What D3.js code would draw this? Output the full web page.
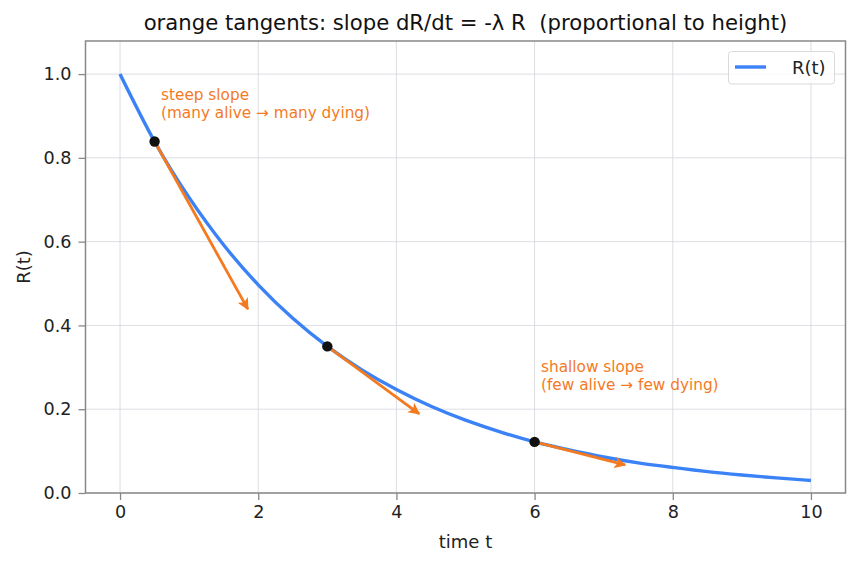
<!DOCTYPE html>
<html><head><meta charset="utf-8">
<script src="https://cdn.jsdelivr.net/npm/d3@7"></script>
<style>body{margin:0;background:#fff}svg{display:block}text{font-family:"DejaVu Sans",sans-serif;white-space:pre}</style>
</head><body><svg id="c" width="858" height="567"></svg>
<script>
const timeT = [0,0.5,1,1.5,2,2.5,3,3.5,4,4.5,5,5.5,6,6.5,7,7.5,8,8.5,9,9.5,10];
const survival = [1.000,0.839,0.705,0.592,0.497,0.417,0.350,0.294,0.247,0.207,0.174,0.146,0.122,0.103,0.086,0.072,0.061,0.051,0.043,0.036,0.030];
const tangentT = [0.5,3,6];
const tangentR = [0.839,0.350,0.122];
const arrowEndT = [1.85,4.33,7.31];
const arrowEndR = [0.439,0.189,0.067];
const xTicks = [0,2,4,6,8,10];
const yTicks = [0,0.2,0.4,0.6,0.8,1.0];

const blue = "#3b82f6", orange = "#f47a1f", gridC = "#d3d6da", frameC = "#888888";
const svg = d3.select("#c");
const L = 85.5, R = 845.5, T = 41, B = 493;
const x = d3.scaleLinear().domain([-0.5,10.5]).range([L,R]);
const y = d3.scaleLinear().domain([0,1.079]).range([B,T]);

// grid
svg.append("g").selectAll("line").data(xTicks).join("line")
  .attr("x1",d=>x(d)).attr("x2",d=>x(d)).attr("y1",T).attr("y2",B)
  .attr("stroke",gridC).attr("stroke-width",0.8);
svg.append("g").selectAll("line").data(yTicks).join("line")
  .attr("x1",L).attr("x2",R).attr("y1",d=>y(d)).attr("y2",d=>y(d))
  .attr("stroke",gridC).attr("stroke-width",0.8);

// axes
const xAxis = svg.append("g").attr("transform",`translate(0,${B})`)
  .call(d3.axisBottom(x).tickValues(xTicks).tickFormat(d3.format("d")).tickSize(7).tickPadding(6));
const yAxis = svg.append("g").attr("transform",`translate(${L},0)`)
  .call(d3.axisLeft(y).tickValues(yTicks).tickFormat(d3.format(".1f")).tickSize(7).tickPadding(7));
[xAxis,yAxis].forEach(a=>{
  a.select(".domain").remove();
  a.selectAll(".tick line").attr("stroke",frameC).attr("stroke-width",1.3);
  a.selectAll(".tick text").attr("fill","#222").style("font-size","17.6px").style("font-family","DejaVu Sans");
});

// curve
svg.append("path").datum(timeT.map((t,i)=>[t,survival[i]]))
  .attr("d",d3.line().x(d=>x(d[0])).y(d=>y(d[1])).curve(d3.curveNatural))
  .attr("fill","none").attr("stroke",blue).attr("stroke-width",3.4);

// arrow marker
svg.append("defs").append("marker").attr("id","ah")
  .attr("viewBox","0 0 10 10").attr("refX",9).attr("refY",5)
  .attr("markerWidth",4.2).attr("markerHeight",4.2).attr("markerUnits","strokeWidth").attr("orient","auto")
  .append("path").attr("d","M0,0 L10,5 L0,10 L2.5,5 Z").attr("fill",orange);

svg.append("g").selectAll("line").data(tangentT).join("line")
  .attr("x1",(d,i)=>x(d)).attr("y1",(d,i)=>y(tangentR[i]))
  .attr("x2",(d,i)=>x(arrowEndT[i])).attr("y2",(d,i)=>y(arrowEndR[i]))
  .attr("stroke",orange).attr("stroke-width",2.8).attr("marker-end","url(#ah)");

svg.append("g").selectAll("circle").data(tangentT).join("circle")
  .attr("cx",d=>x(d)).attr("cy",(d,i)=>y(tangentR[i])).attr("r",5.2).attr("fill","#111");

// annotations
function note(tx,ty,lines){
  const t = svg.append("text").attr("x",tx).attr("y",ty).attr("fill",orange).style("font-size","15.3px");
  lines.forEach((s,i)=>t.append("tspan").attr("x",tx).attr("dy",i?18:0).text(s));
}
note(161,100,["steep slope","(many alive \u2192 many dying)"]);
note(541,372,["shallow slope","(few alive \u2192 few dying)"]);

// frame
svg.append("rect").attr("x",L).attr("y",T).attr("width",R-L).attr("height",B-T)
  .attr("fill","none").attr("stroke",frameC).attr("stroke-width",1.5);

// legend
svg.append("rect").attr("x",728.5).attr("y",51.5).attr("width",106).attr("height",32.5).attr("rx",3)
  .attr("fill","#fff").attr("fill-opacity",0.8).attr("stroke","#d9d9d9").attr("stroke-width",1);
svg.append("line").attr("x1",735).attr("x2",766).attr("y1",67).attr("y2",67).attr("stroke",blue).attr("stroke-width",3.4);
svg.append("text").attr("x",792).attr("y",73.5).attr("fill","#222").style("font-size","18px").text("R(t)");

// title and labels
svg.append("text").attr("x",(L+R)/2).attr("y",30).attr("text-anchor","middle").attr("fill","#111")
  .style("font-size","21.2px").text("orange tangents: slope dR/dt = -\u03bb R  (proportional to height)");
svg.append("text").attr("x",(L+R)/2).attr("y",548).attr("text-anchor","middle").attr("fill","#222")
  .style("font-size","18px").text("time t");
svg.append("text").attr("transform",`translate(30,${(T+B)/2}) rotate(-90)`).attr("text-anchor","middle").attr("fill","#222")
  .style("font-size","18px").text("R(t)");
</script></body></html>
